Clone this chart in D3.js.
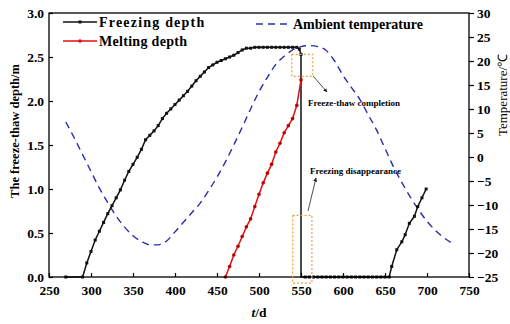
<!DOCTYPE html>
<html>
<head>
<meta charset="utf-8">
<script src="https://cdn.jsdelivr.net/npm/d3@7"></script>
<style>
  body { margin: 0; background: #fff; }
  text { font-family: "Liberation Serif", "Times New Roman", serif; font-weight: bold; }
</style>
</head>
<body>
<svg id="chart" width="510" height="324"></svg>
<script>
// freezing depth (m) by day
const freezeDays = [270, 290, 295, 300, 305, 310, 315, 320, 325, 330, 335, 340, 345, 350, 355, 360, 365, 370, 375, 380, 385, 390, 395, 400, 405, 410, 415, 420, 425, 430, 435, 440, 445, 450, 455, 460, 465, 470, 475, 480, 485, 490, 495, 500, 505, 510, 515, 520, 525, 530, 535, 540, 545, 548, 550, 550, 555, 560, 565, 570, 575, 580, 585, 590, 595, 600, 605, 610, 615, 620, 625, 630, 635, 640, 645, 650, 655, 658, 664, 670, 674, 679, 685, 689, 694, 699];
const freezeDepth = [0, 0, 0.16, 0.29, 0.42, 0.52, 0.62, 0.72, 0.81, 0.9, 0.99, 1.1, 1.2, 1.28, 1.36, 1.45, 1.56, 1.61, 1.66, 1.72, 1.8, 1.86, 1.91, 1.96, 2.01, 2.06, 2.11, 2.17, 2.23, 2.28, 2.33, 2.38, 2.41, 2.44, 2.46, 2.48, 2.5, 2.52, 2.55, 2.58, 2.6, 2.6, 2.61, 2.61, 2.61, 2.61, 2.61, 2.61, 2.61, 2.61, 2.61, 2.61, 2.61, 2.59, 2.53, 0, 0, 0, 0, 0, 0, 0, 0, 0, 0, 0, 0, 0, 0, 0, 0, 0, 0, 0, 0, 0, 0, 0.12, 0.31, 0.4, 0.48, 0.61, 0.69, 0.8, 0.9, 1.0];

// melting depth (m) by day
const meltDays = [460, 465, 470, 475, 480, 485, 490, 495, 500, 505, 510, 515, 520, 525, 530, 535, 540, 545, 550];
const meltDepth = [0, 0.12, 0.25, 0.35, 0.46, 0.57, 0.66, 0.8, 0.94, 1.07, 1.18, 1.28, 1.42, 1.52, 1.64, 1.72, 1.8, 1.95, 2.24];

// ambient temperature (°C)
const tempDays = [270, 280, 290, 300, 310, 320, 330, 340, 350, 360, 370, 380, 390, 400, 410, 420, 430, 440, 450, 460, 470, 480, 490, 500, 510, 520, 530, 540, 550, 560, 570, 580, 590, 600, 610, 620, 630, 640, 650, 660, 670, 680, 690, 700, 710, 720, 730];
const tempVals = [7.3, 4.0, 0.5, -3.0, -6.5, -9.5, -12.3, -14.6, -16.4, -17.6, -18.3, -18.3, -17.5, -15.6, -13.6, -11.6, -9.6, -7.0, -4.2, -1.0, 2.5, 6.2, 10.0, 13.6, 16.6, 19.3, 21.0, 22.3, 23.0, 23.2, 23.0, 22.2, 20.0, 17.0, 14.5, 12.0, 8.8, 5.6, 1.8, -2.0, -5.3, -8.3, -11.0, -13.4, -15.3, -16.8, -18.0];

const xTicks = [250, 300, 350, 400, 450, 500, 550, 600, 650, 700, 750];
const yLeftTicks = [0, 0.5, 1.0, 1.5, 2.0, 2.5, 3.0];
const yRightTicks = [-25, -20, -15, -10, -5, 0, 5, 10, 15, 20, 25, 30];

const margin = {top: 13, right: 41, bottom: 47, left: 49};
const width = 510 - margin.left - margin.right;
const height = 324 - margin.top - margin.bottom;

const svg = d3.select("#chart");
const g = svg.append("g").attr("transform", `translate(${margin.left},${margin.top})`);

const xScale = d3.scaleLinear().domain([250, 750]).range([0, width]);
const yLeft = d3.scaleLinear().domain([0, 3]).range([height, 0]);
const yRight = d3.scaleLinear().domain([-25, 30]).range([height, 0]);

const freeze = freezeDays.map((t, i) => ({t: t, v: freezeDepth[i]}));
const melt = meltDays.map((t, i) => ({t: t, v: meltDepth[i]}));
const temp = tempDays.map((t, i) => ({t: t, v: tempVals[i]}));

// ambient temperature
g.append("path")
    .datum(temp)
    .attr("fill", "none")
    .attr("stroke", "#2c2ca8")
    .attr("stroke-width", 1.4)
    .attr("stroke-dasharray", "7,5")
    .attr("d", d3.line().curve(d3.curveMonotoneX).x(d => xScale(d.t)).y(d => yRight(d.v)));

// freezing depth
g.append("path")
    .datum(freeze)
    .attr("fill", "none")
    .attr("stroke", "#111")
    .attr("stroke-width", 1.5)
    .attr("d", d3.line().x(d => xScale(d.t)).y(d => yLeft(d.v)));

g.selectAll(".fm")
    .data(freeze.filter(d => !(d.t === 550 && d.v === 0)))
    .join("rect")
    .attr("class", "fm")
    .attr("x", d => xScale(d.t) - 1.5)
    .attr("y", d => yLeft(d.v) - 1.5)
    .attr("width", 3)
    .attr("height", 3)
    .attr("fill", "#111");

// melting depth
g.append("path")
    .datum(melt)
    .attr("fill", "none")
    .attr("stroke", "#e01010")
    .attr("stroke-width", 1.5)
    .attr("d", d3.line().x(d => xScale(d.t)).y(d => yLeft(d.v)));

g.selectAll(".mm")
    .data(melt)
    .join("circle")
    .attr("class", "mm")
    .attr("cx", d => xScale(d.t))
    .attr("cy", d => yLeft(d.v))
    .attr("r", 1.8)
    .attr("fill", "#c00000");

// axes
g.append("rect")
    .attr("width", width).attr("height", height)
    .attr("fill", "none").attr("stroke", "#000").attr("stroke-width", 1.3);

const xAxis = g.append("g")
    .attr("transform", `translate(0,${height})`)
    .call(d3.axisBottom(xScale).tickValues(xTicks).tickSizeInner(-4).tickSizeOuter(0).tickPadding(8));
const yAxisL = g.append("g")
    .call(d3.axisLeft(yLeft).tickValues(yLeftTicks).tickFormat(d3.format(".1f")).tickSizeInner(-4).tickSizeOuter(0).tickPadding(5));
const yAxisR = g.append("g")
    .attr("transform", `translate(${width},0)`)
    .call(d3.axisRight(yRight).tickValues(yRightTicks).tickSizeInner(5).tickSizeOuter(0).tickPadding(3));

[xAxis, yAxisL, yAxisR].forEach(a => {
    a.select(".domain").remove();
    a.selectAll("line").attr("stroke", "#000").attr("stroke-width", 1.2);
    a.selectAll("text")
        .attr("fill", "#000")
        .style("font-family", "'Liberation Serif', serif")
        .style("font-weight", "700")
        .style("font-size", "13.5px");
});

// axis titles
svg.append("text")
    .attr("transform", "rotate(-90)")
    .attr("x", -131).attr("y", 19)
    .attr("text-anchor", "middle")
    .style("font-size", "12.5px")
    .text("The freeze-thaw depth/m");

svg.append("text")
    .attr("transform", "rotate(-90)")
    .attr("x", -95).attr("y", 507)
    .attr("text-anchor", "middle")
    .style("font-size", "13px")
    .style("font-weight", "normal")
    .text("Temperature/℃");

const xl = svg.append("text")
    .attr("x", 259).attr("y", 317)
    .attr("text-anchor", "middle")
    .style("font-size", "13.5px");
xl.append("tspan").style("font-style", "italic").text("t");
xl.append("tspan").text("/d");

// legend
const legend = [
    {label: "Freezing depth", color: "#111", y: 22, marker: "rect", sp: 1.2},
    {label: "Melting depth", color: "#e01010", y: 41, marker: "circle", sp: 0.3}
];
legend.forEach(l => {
    svg.append("line").attr("x1", 63).attr("x2", 97).attr("y1", l.y).attr("y2", l.y)
        .attr("stroke", l.color).attr("stroke-width", 1.5);
    if (l.marker === "rect") {
        svg.append("rect").attr("x", 78.5).attr("y", l.y - 1.5).attr("width", 3).attr("height", 3).attr("fill", l.color);
    } else {
        svg.append("circle").attr("cx", 80).attr("cy", l.y).attr("r", 1.8).attr("fill", l.color);
    }
    svg.append("text").attr("x", 99).attr("y", l.y + 5)
        .style("font-size", "14px").style("letter-spacing", l.sp + "px").text(l.label);
});
svg.append("line").attr("x1", 256).attr("x2", 290).attr("y1", 24).attr("y2", 24)
    .attr("stroke", "#2c2ca8").attr("stroke-width", 1.4).attr("stroke-dasharray", "7,5");
svg.append("text").attr("x", 293).attr("y", 29).style("font-size", "14px").text("Ambient temperature");

// annotations
const defs = svg.append("defs");
defs.append("marker").attr("id", "arr").attr("viewBox", "0 0 10 10")
    .attr("refX", 9).attr("refY", 5).attr("markerWidth", 5).attr("markerHeight", 5)
    .attr("orient", "auto")
    .append("path").attr("d", "M0,0L10,5L0,10z").attr("fill", "#222");

const boxes = [
    {t0: 539, t1: 564, v0: 2.53, v1: 2.28},
    {t0: 540, t1: 563, v0: 0.7, v1: -0.07}
];
boxes.forEach(b => {
    g.append("rect")
        .attr("x", xScale(b.t0)).attr("y", yLeft(b.v0))
        .attr("width", xScale(b.t1) - xScale(b.t0))
        .attr("height", yLeft(b.v1) - yLeft(b.v0))
        .attr("fill", "none").attr("stroke", "#f0a040").attr("stroke-width", 1.2)
        .attr("stroke-dasharray", "2,2");
});

svg.append("line").attr("x1", 313).attr("y1", 76).attr("x2", 327).attr("y2", 92)
    .attr("stroke", "#222").attr("stroke-width", 0.8).attr("marker-end", "url(#arr)");
svg.append("text").attr("x", 308).attr("y", 106).style("font-size", "9px").text("Freeze-thaw completion");

svg.append("line").attr("x1", 308).attr("y1", 211).attr("x2", 316).attr("y2", 178)
    .attr("stroke", "#222").attr("stroke-width", 0.8).attr("marker-end", "url(#arr)");
svg.append("text").attr("x", 310).attr("y", 174).style("font-size", "9px").text("Freezing disappearance");
</script>
</body>
</html>
